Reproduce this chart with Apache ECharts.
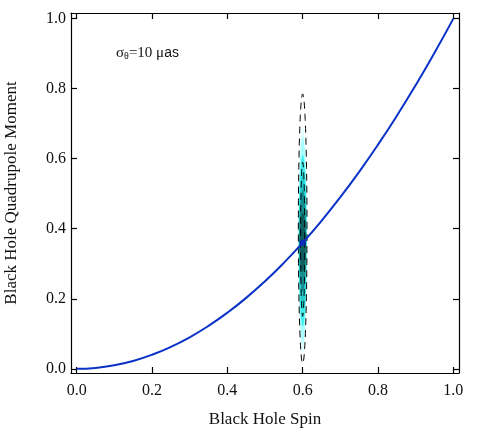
<!DOCTYPE html>
<html>
<head>
<meta charset="utf-8">
<script src="https://cdn.jsdelivr.net/npm/echarts@6/dist/echarts.min.js"></script>
<style>html,body{margin:0;padding:0;background:#fff;}#c{width:498px;height:432px;}</style>
</head>
<body>
<div id="c"></div>
<script>
// Kerr relation curve
const spinValues = [0,0.05,0.1,0.15,0.2,0.25,0.3,0.35,0.4,0.45,0.5,0.55,0.6,0.65,0.7,0.75,0.8,0.85,0.9,0.95,1.0];
const quadValues = [0,0.0025,0.01,0.0225,0.04,0.0625,0.09,0.1225,0.16,0.2025,0.25,0.3025,0.36,0.4225,0.49,0.5625,0.64,0.7225,0.81,0.9025,1.0];
// best-fit marker
const bestFit = [0.6, 0.36];
// filled probability levels: centre, half-widths, half-heights
const levelCenterX = [0.6,0.6,0.6,0.6,0.6,0.6];
const levelCenterY = [0.368,0.368,0.366,0.365,0.365,0.362];
const levelHalfW = [0.0115,0.0112,0.0108,0.0100,0.0092,0.0080];
const levelHalfH = [0.325,0.295,0.245,0.195,0.145,0.085];
const levelColors = ['#e2ffff','#a8ffff','#3ef2f2','#26cccc','#168e8e','#0e5e5e'];
// dashed contours
const contourCenterX = [0.6,0.6];
const contourCenterY = [0.40,0.37];
const contourHalfW = [0.0115,0.0055];
const contourHalfH = [0.385,0.22];
// ticks
const tickValues = [0,0.2,0.4,0.6,0.8,1.0];

const chart = echarts.init(document.getElementById('c'));
const serif = 'Liberation Serif';

function ellipse(api, cx, cy, hw, hh) {
  const pts = [];
  const n = 120;
  for (let k = 0; k < n; k++) {
    const t = k / n * 2 * Math.PI;
    pts.push(api.coord([cx + hw * Math.cos(t), cy + hh * Math.sin(t)]));
  }
  return pts;
}

const fillData = levelCenterX.map((cx, i) => [cx, levelCenterY[i], levelHalfW[i], levelHalfH[i]]);
const contourData = contourCenterX.map((cx, i) => [cx, contourCenterY[i], contourHalfW[i], contourHalfH[i]]);

const xBase = {
  type: 'value', min: -0.015, max: 1.015,
  splitLine: {show: false},
  axisLine: {show: true, onZero: false, lineStyle: {color: '#000', width: 1.2}},
  axisTick: {show: true, inside: true, length: 6, customValues: tickValues, lineStyle: {color: '#000', width: 1.2}},
  minorTick: {show: false}
};
const yBase = {
  type: 'value', min: -0.012, max: 1.016,
  splitLine: {show: false},
  axisLine: {show: true, onZero: false, lineStyle: {color: '#000', width: 1.2}},
  axisTick: {show: true, inside: true, length: 6, customValues: tickValues, lineStyle: {color: '#000', width: 1.2}}
};

chart.setOption({
  animation: false,
  backgroundColor: '#fff',
  grid: {left: 71, right: 39, top: 13, bottom: 59, containLabel: false, outerBoundsMode: 'none'},
  xAxis: [
    Object.assign({}, xBase, {
      position: 'bottom',
      axisLabel: {show: true, customValues: tickValues, formatter: v => v.toFixed(1), margin: 10, color: '#111', fontFamily: serif, fontSize: 16},
      name: 'Black Hole Spin', nameLocation: 'middle', nameGap: 38,
      nameTextStyle: {color: '#111', fontFamily: serif, fontSize: 17}
    }),
    Object.assign({}, xBase, {position: 'top', axisLabel: {show: false}})
  ],
  yAxis: [
    Object.assign({}, yBase, {
      position: 'left',
      axisLabel: {show: true, customValues: tickValues, formatter: v => v.toFixed(1), margin: 5, color: '#111', fontFamily: serif, fontSize: 16},
      name: 'Black Hole Quadrupole Moment', nameLocation: 'middle', nameGap: 51, nameRotate: 90,
      nameTextStyle: {color: '#111', fontFamily: serif, fontSize: 17}
    }),
    Object.assign({}, yBase, {position: 'right', axisLabel: {show: false}})
  ],
  graphic: [{
    type: 'text', left: 116, top: 46,
    style: {
      text: '{s|σ}{sub|θ}{s|=10 μ}{a|as}',
      rich: {
        s: {fontFamily: serif, fontSize: 15, fill: '#111'},
        sub: {fontFamily: serif, fontSize: 10, fill: '#111', verticalAlign: 'bottom', padding: [6,0,0,0]},
        a: {fontFamily: 'Liberation Sans', fontSize: 14, fill: '#111'}
      }
    }
  }],
  series: [
    {
      type: 'custom', xAxisIndex: 0, yAxisIndex: 0, data: fillData, encode: {x: 0, y: 1}, z: 2,
      renderItem: function (params, api) {
        return {type: 'polygon', shape: {points: ellipse(api, api.value(0), api.value(1), api.value(2), api.value(3))},
          style: {fill: levelColors[params.dataIndex], stroke: null}};
      }
    },
    {
      type: 'custom', xAxisIndex: 0, yAxisIndex: 0, data: contourData, encode: {x: 0, y: 1}, z: 3,
      renderItem: function (params, api) {
        return {type: 'polygon', shape: {points: ellipse(api, api.value(0), api.value(1), api.value(2), api.value(3))},
          style: {fill: null, stroke: '#000', lineWidth: 1, lineDash: [7, 5]}};
      }
    },
    {
      type: 'line', xAxisIndex: 0, yAxisIndex: 0, z: 4,
      data: spinValues.map((x, i) => [x, quadValues[i]]),
      smooth: true, showSymbol: false, symbol: 'none',
      lineStyle: {color: '#0a32c8', width: 2}
    },
    {
      type: 'scatter', xAxisIndex: 0, yAxisIndex: 0, z: 5,
      data: [bestFit], symbol: 'rect', symbolSize: 6,
      itemStyle: {color: '#0a28c0'}
    }
  ]
});
</script>
</body>
</html>
